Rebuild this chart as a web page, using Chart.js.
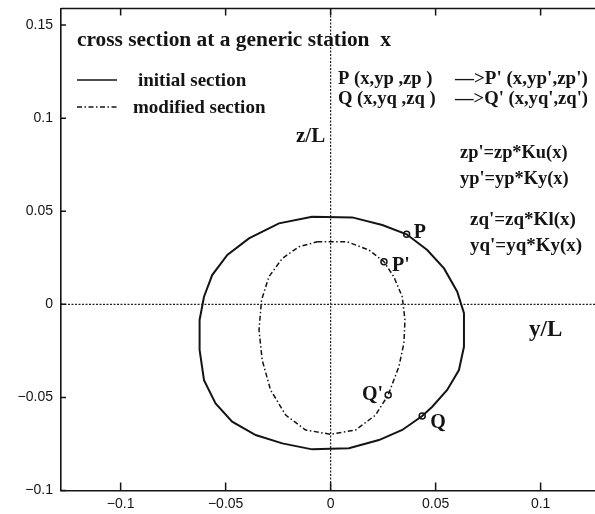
<!DOCTYPE html>
<html>
<head>
<meta charset="utf-8">
<script src="https://cdn.jsdelivr.net/npm/chart.js@4.4.1/dist/chart.umd.min.js"></script>
<style>
  html, body { margin: 0; padding: 0; background: #fff; }
</style>
</head>
<body>
<canvas id="sectionChart" width="595" height="514"></canvas>
<script>
// axis ticks
var yTicks = [-0.1, -0.05, 0, 0.05, 0.1];          // y/L, horizontal
var zTicks = [-0.1, -0.05, 0, 0.05, 0.1, 0.15];    // z/L, vertical

// initial section outline, clockwise from the top
var initialY = [-0.0088, 0.0103, 0.0246, 0.0362, 0.0460, 0.0540, 0.0603, 0.0635, 0.0635, 0.0611,
                0.0555, 0.0484, 0.0436, 0.0341, 0.0230, 0.0087, -0.0088, -0.0230, -0.0357, -0.0469,
                -0.0548, -0.0603, -0.0624, -0.0624, -0.0603, -0.0564, -0.0492, -0.0389, -0.0246, -0.0088];
var initialZ = [0.0470, 0.0467, 0.0426, 0.0376, 0.0292, 0.0193, 0.0068, -0.0048, -0.0228, -0.0353,
                -0.0460, -0.0550, -0.0600, -0.0675, -0.0729, -0.0773, -0.0779, -0.0747, -0.0702, -0.0630,
                -0.0532, -0.0407, -0.0245, -0.0084, 0.0041, 0.0157, 0.0265, 0.0354, 0.0435, 0.0470];

// modified section outline
var modifiedY = [-0.0064, 0.0079, 0.0182, 0.0254, 0.0301, 0.0341, 0.0354, 0.0349, 0.0325, 0.0274,
                 0.0214, 0.0119, 0.0000, -0.0119, -0.0214, -0.0286, -0.0326, -0.0341, -0.0329, -0.0294,
                 -0.0230, -0.0151, -0.0064];
var modifiedZ = [0.0336, 0.0336, 0.0292, 0.0229, 0.0148, 0.0041, -0.0084, -0.0209, -0.0335, -0.0487,
                 -0.0595, -0.0675, -0.0698, -0.0675, -0.0595, -0.0460, -0.0299, -0.0138, 0.0023, 0.0148,
                 0.0247, 0.0309, 0.0336];

// points P, Q and where they move to
var markNames = ["P", "Q", "P'", "Q'"];
var markY = [0.0362, 0.0436, 0.0254, 0.0274];
var markZ = [0.0376, -0.0600, 0.0229, -0.0487];

var INK = '#141414';
var SERIF = '"Liberation Serif", "Times New Roman", serif';
var SANS = '"Liberation Sans", Arial, sans-serif';

function toPoints(ys, zs) {
    var pts = [];
    for (var i = 0; i < ys.length; i++) {
        pts.push({x: ys[i], y: zs[i]});
    }
    return pts;
}

function tickLabel(v) {
    if (v === 0) return '0';
    return (v < 0 ? '\u2212' : '') + Math.abs(v);
}

// label offsets (px) next to each marked point
var markOffsets = {
    "P":  [7, 3.5, 'left'],
    "Q":  [8, 12, 'left'],
    "P'": [8, 9, 'left'],
    "Q'": [-5, 5, 'right']
};

// free text on the plot, pixel positions (left, baseline)
var notes = [
    ["cross section at a generic station  x", 77, 46, 'bold 21.4px ' + SERIF],
    ["initial section", 138, 86, 'bold 19px ' + SERIF],
    ["modified section", 133, 113, 'bold 19px ' + SERIF],
    ["P (x,yp ,zp )", 338, 84, 'bold 18.6px ' + SERIF],
    ["\u2014>P' (x,yp',zp')", 455, 84, 'bold 19px ' + SERIF],
    ["Q (x,yq ,zq )", 338, 104, 'bold 18.6px ' + SERIF],
    ["\u2014>Q' (x,yq',zq')", 455, 104, 'bold 18.6px ' + SERIF],
    ["z/L", 296, 142, 'bold 21px ' + SERIF],
    ["y/L", 529, 336, 'bold 23px ' + SERIF],
    ["zp'=zp*Ku(x)", 460, 158, 'bold 18.4px ' + SERIF],
    ["yp'=yp*Ky(x)", 460, 184, 'bold 18.4px ' + SERIF],
    ["zq'=zq*Kl(x)", 470, 225, 'bold 19px ' + SERIF],
    ["yq'=yq*Ky(x)", 470, 251, 'bold 19px ' + SERIF]
];

var framePlugin = {
    id: 'frame',
    beforeDatasetsDraw: function(chart) {
        var ctx = chart.ctx, a = chart.chartArea;
        var xs = chart.scales.x, ys = chart.scales.y;
        var x0 = xs.getPixelForValue(0), y0 = ys.getPixelForValue(0);
        ctx.save();
        // dotted cross through the origin
        ctx.strokeStyle = '#222';
        ctx.lineWidth = 1.2;
        ctx.setLineDash([2, 1.5]);
        ctx.beginPath();
        ctx.moveTo(x0, a.top); ctx.lineTo(x0, a.bottom);
        ctx.moveTo(a.left, y0); ctx.lineTo(a.right, y0);
        ctx.stroke();
        ctx.restore();
    },
    afterDraw: function(chart) {
        var ctx = chart.ctx, a = chart.chartArea;
        var xs = chart.scales.x, ys = chart.scales.y;
        ctx.save();
        ctx.strokeStyle = INK;
        ctx.lineWidth = 1.5;
        // top border
        ctx.beginPath();
        ctx.moveTo(a.left, a.top); ctx.lineTo(a.right, a.top);
        ctx.stroke();
        // inward ticks
        ctx.beginPath();
        yTicks.forEach(function(v) {
            var px = xs.getPixelForValue(v);
            ctx.moveTo(px, a.bottom); ctx.lineTo(px, a.bottom - 8);
            ctx.moveTo(px, a.top); ctx.lineTo(px, a.top + 7);
        });
        zTicks.forEach(function(v) {
            var py = ys.getPixelForValue(v);
            ctx.moveTo(a.left, py); ctx.lineTo(a.left + 5, py);
        });
        ctx.stroke();

        // legend samples
        ctx.lineWidth = 1.7;
        ctx.beginPath();
        ctx.moveTo(77, 80); ctx.lineTo(117, 80);
        ctx.stroke();
        ctx.setLineDash([5, 2.5, 1.5, 2.5]);
        ctx.lineWidth = 1.4;
        ctx.beginPath();
        ctx.moveTo(77, 107); ctx.lineTo(117, 107);
        ctx.stroke();
        ctx.setLineDash([]);

        ctx.fillStyle = INK;
        ctx.textBaseline = 'alphabetic';
        notes.forEach(function(n) {
            ctx.font = n[3];
            ctx.textAlign = 'left';
            ctx.fillText(n[0], n[1], n[2]);
        });

        // point names
        ctx.font = 'bold 20px ' + SERIF;
        for (var i = 0; i < markNames.length; i++) {
            var off = markOffsets[markNames[i]];
            ctx.textAlign = off[2];
            ctx.fillText(markNames[i],
                xs.getPixelForValue(markY[i]) + off[0],
                ys.getPixelForValue(markZ[i]) + off[1]);
        }
        ctx.restore();
    }
};

var initialPts = toPoints(initialY, initialZ);
var modifiedPts = toPoints(modifiedY, modifiedZ);
var markPts = toPoints(markY, markZ);

var ctx = document.getElementById('sectionChart');
var sectionChart = new Chart(ctx, {
    type: 'scatter',
    data: {
        datasets: [{
            label: 'initial section',
            data: initialPts,
            showLine: true,
            borderColor: INK,
            borderWidth: 2,
            pointRadius: 0,
            tension: 0
        }, {
            label: 'modified section',
            data: modifiedPts,
            showLine: true,
            borderColor: INK,
            borderWidth: 1.5,
            borderDash: [5, 2.5, 1.5, 2.5],
            pointRadius: 0,
            tension: 0
        }, {
            label: 'points',
            data: markPts,
            showLine: false,
            pointRadius: 3,
            pointBackgroundColor: '#fff',
            pointBorderColor: INK,
            pointBorderWidth: 1.5
        }]
    },
    options: {
        responsive: false,
        animation: false,
        layout: { autoPadding: false, padding: { top: 8.5, left: 0, right: 0, bottom: 0 } },
        plugins: {
            legend: { display: false },
            tooltip: { enabled: false }
        },
        scales: {
            x: {
                type: 'linear',
                min: -0.1284,
                max: 0.1259,
                afterBuildTicks: function(s) {
                    s.ticks = yTicks.map(function(v) { return {value: v}; });
                },
                afterFit: function(s) {
                    s.height = 23.5;
                    s.paddingLeft = 0;
                    s.paddingRight = 0;
                },
                grid: { drawOnChartArea: false, drawTicks: false },
                border: { display: true, color: INK, width: 1.6 },
                ticks: {
                    color: INK,
                    padding: 5,
                    maxRotation: 0,
                    autoSkip: false,
                    font: { family: SANS, size: 14 },
                    callback: function(v) { return tickLabel(v); }
                }
            },
            y: {
                type: 'linear',
                min: -0.1,
                max: 0.1589,
                afterBuildTicks: function(s) {
                    s.ticks = zTicks.map(function(v) { return {value: v}; });
                },
                afterFit: function(s) {
                    s.width = 61;
                    s.paddingTop = 0;
                    s.paddingBottom = 0;
                },
                grid: { drawOnChartArea: false, drawTicks: false },
                border: { display: true, color: INK, width: 1.6 },
                ticks: {
                    color: INK,
                    padding: 8,
                    autoSkip: false,
                    font: { family: SANS, size: 14 },
                    callback: function(v) { return tickLabel(v); }
                }
            }
        }
    },
    plugins: [framePlugin]
});
</script>
</body>
</html>
